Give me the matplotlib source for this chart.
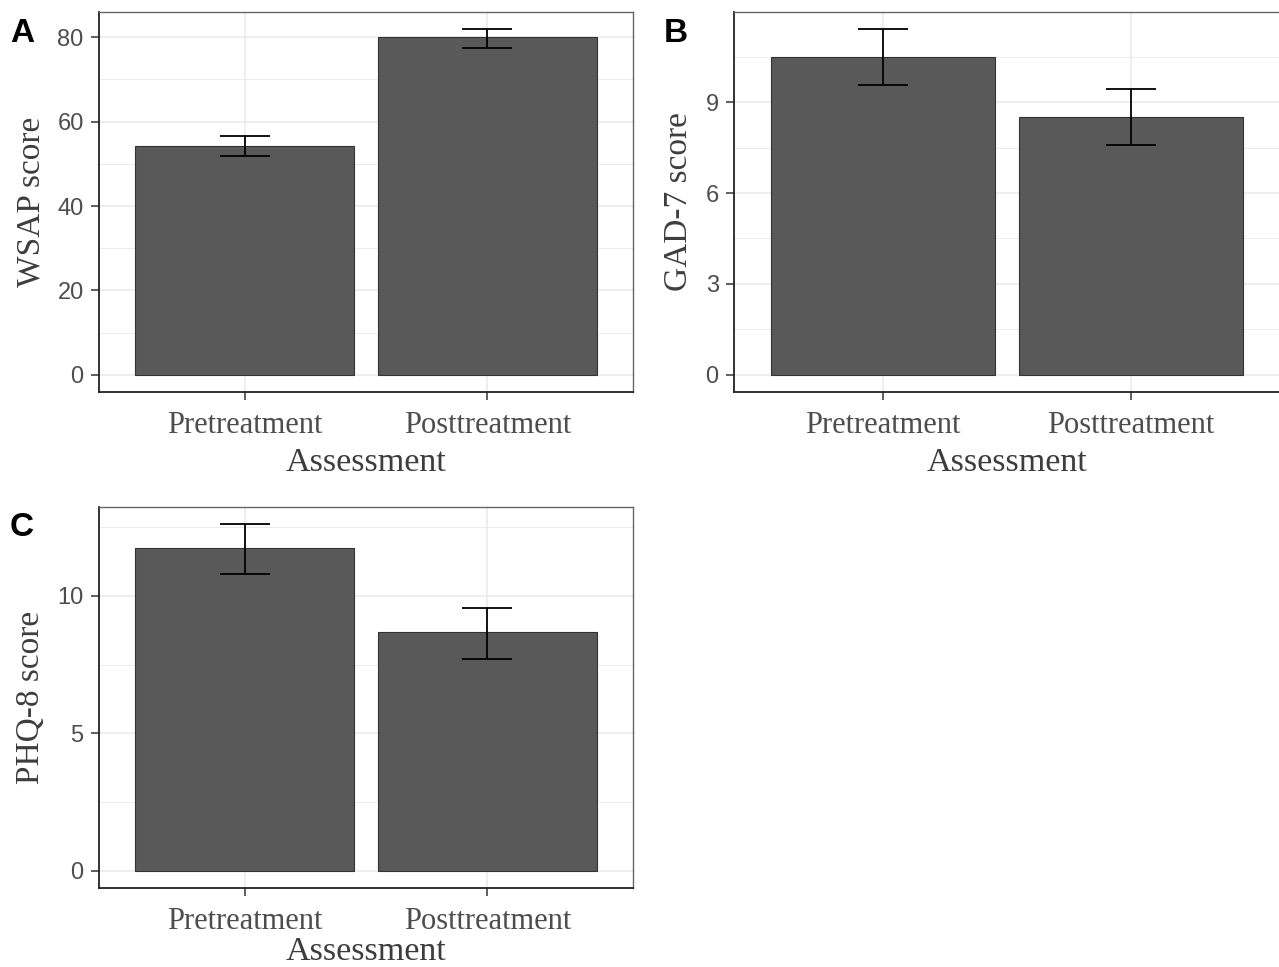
import matplotlib
matplotlib.use('Agg')
import matplotlib.pyplot as plt

# ── data ──────────────────────────────────────────────────────────────────────
groups = ['Pretreatment', 'Posttreatment']

wsap_mean  = [54.2, 80.0]
wsap_lo    = [51.8, 77.4]
wsap_hi    = [56.6, 81.9]

gad_mean   = [10.48, 8.50]
gad_lo     = [9.57, 7.58]
gad_hi     = [11.41, 9.43]

phq_mean   = [11.74, 8.68]
phq_lo     = [10.79, 7.70]
phq_hi     = [12.60, 9.55]

SERIF = 'Liberation Serif'
SANS  = 'Liberation Sans'
BAR   = '#595959'
GRID  = '#EBEBEB'
TXT   = '#4D4D4D'

fig = plt.figure(figsize=(12.79, 9.67), dpi=100)
fig.patch.set_facecolor('white')


def panel(rect, means, lo, hi, ylabel, ylim, major, minor, label, label_xy,
          xlabelpad=5):
    ax = fig.add_axes(rect)
    x = list(range(len(groups)))
    ax.set_axisbelow(True)
    for m in minor:
        ax.axhline(m, color=GRID, linewidth=0.7, zorder=0)
    for m in major:
        ax.axhline(m, color=GRID, linewidth=1.2, zorder=0)
    for xi in x:
        ax.axvline(xi, color=GRID, linewidth=1.2, zorder=0)

    ax.bar(x, means, width=0.9, color=BAR, edgecolor='#333333',
           linewidth=0.8, zorder=2)
    err = [[m - l for m, l in zip(means, lo)], [h - m for m, h in zip(means, hi)]]
    ax.errorbar(x, means, yerr=err, fmt='none', ecolor='black',
                elinewidth=1.3, capsize=18, capthick=1.3, zorder=3)

    ax.set_xlim(-0.6, 1.6)
    ax.set_ylim(*ylim)
    ax.set_yticks(major)
    ax.set_xticks(x)
    ax.set_xticklabels(groups, fontfamily=SERIF, fontsize=22, color=TXT)
    for t in ax.get_yticklabels():
        t.set_fontfamily(SANS)
        t.set_fontsize(17)
        t.set_color(TXT)
    ax.tick_params(axis='both', length=6, width=1.1, color='#333333')
    ax.tick_params(axis='y', pad=5)
    ax.tick_params(axis='x', pad=8)

    ax.set_xlabel('Assessment', fontfamily=SERIF, fontsize=24.5,
                  color='#3d3d3d', labelpad=xlabelpad)
    ax.set_ylabel(ylabel, fontfamily=SERIF, fontsize=24,
                  color='#3d3d3d', labelpad=8)

    for s in ('top', 'right'):
        ax.spines[s].set_color('#666666')
        ax.spines[s].set_linewidth(1.0)
    for s in ('left', 'bottom'):
        ax.spines[s].set_color('#222222')
        ax.spines[s].set_linewidth(1.3)

    fig.text(label_xy[0], label_xy[1], label, fontfamily=SANS,
             fontweight='bold', fontsize=24, color='black',
             ha='left', va='center')
    return ax


W, H = 1279, 967
panel([99 / W, 1 - 392 / H, 534 / W, 380 / H], wsap_mean, wsap_lo, wsap_hi,
      'WSAP score', (-4.1, 86.0), [0, 20, 40, 60, 80], [10, 30, 50, 70],
      'A', (10 / W, 1 - 34 / H))
panel([734 / W, 1 - 392 / H, 546 / W, 380 / H], gad_mean, gad_lo, gad_hi,
      'GAD-7 score', (-0.57, 11.98), [0, 3, 6, 9], [1.5, 4.5, 7.5, 10.5],
      'B', (664 / W, 1 - 33 / H))
panel([99 / W, 1 - 888 / H, 534 / W, 381 / H], phq_mean, phq_lo, phq_hi,
      'PHQ-8 score', (-0.63, 13.23), [0, 5, 10], [2.5, 7.5, 12.5],
      'C', (10 / W, 1 - 527 / H), xlabelpad=0)

fig.savefig('out.png', dpi=100, facecolor='white')
